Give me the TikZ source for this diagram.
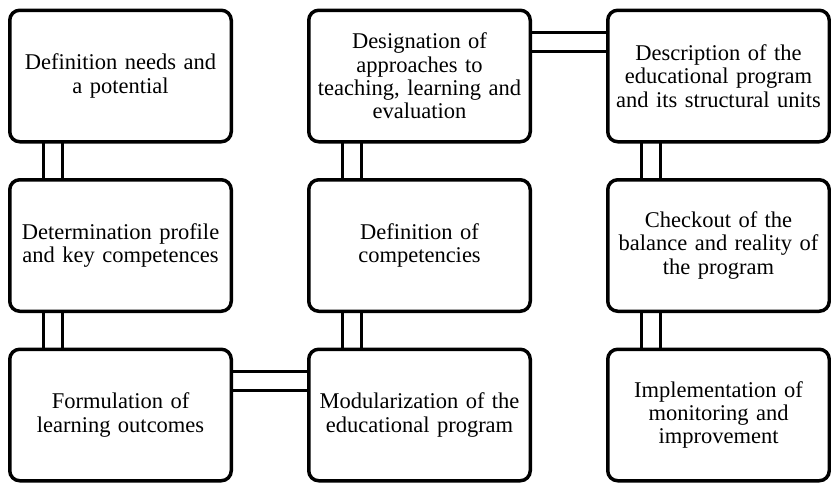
\documentclass[tikz,border=0pt]{standalone}
\usepackage{fontspec}
\setmainfont{Liberation Serif}
\usetikzlibrary{positioning}

\begin{document}
\begin{tikzpicture}[x = 1pt, y = 1pt,
                    stepBox/.style = {draw = black, line width = 3.5pt, rectangle, rounded corners = 10pt, fill = white,
                                      minimum width = 221.5pt, minimum height = 131.5pt, text width = 210pt, inner xsep = 4pt,
                                      align = center, outer sep = 0pt, font = \fontsize{22.5}{23.3}\selectfont},
                    linkLine/.style = {draw = black, line width = 3pt}]
    \useasboundingbox (0, 0) rectangle (831, -483);

    \node [stepBox] (needs) at (120.5, -76) {Definition needs and\\a potential};
    \node [stepBox, below = 38pt of needs]        (profile)     {Determination profile\\and key competences};
    \node [stepBox, below = 38pt of profile]      (outcomes)    {Formulation of\\learning outcomes};
    \node [stepBox, right = 77.5pt of needs]      (approaches)  {Designation of\\approaches to\\teaching, learning and\\evaluation};
    \node [stepBox, below = 38pt of approaches]   (competence)  {Definition of\\competencies};
    \node [stepBox, below = 38pt of competence]   (modules)     {Modularization of the\\educational program};
    \node [stepBox, right = 77.5pt of approaches] (description) {Description of the\\educational program\\and its structural units};
    \node [stepBox, below = 38pt of description]  (checkout)    {Checkout of the\\balance and reality of\\the program};
    \node [stepBox, below = 38pt of checkout]     (monitoring)  {Implementation of\\monitoring and\\improvement};

    \foreach \upper/\lower in {needs/profile, profile/outcomes, approaches/competence, competence/modules, description/checkout, checkout/monitoring}
    {
        \draw [linkLine] ([xshift = 34pt]\upper.south west) -- ([xshift = 34pt]\lower.north west);
        \draw [linkLine] ([xshift = 53pt]\upper.south west) -- ([xshift = 53pt]\lower.north west);
    }
    \foreach \left/\right in {outcomes/modules, approaches/description}
    {
        \draw [linkLine] ([yshift = -22pt]\left.north east) -- ([yshift = -22pt]\right.north west);
        \draw [linkLine] ([yshift = -41pt]\left.north east) -- ([yshift = -41pt]\right.north west);
    }
\end{tikzpicture}
\end{document}
